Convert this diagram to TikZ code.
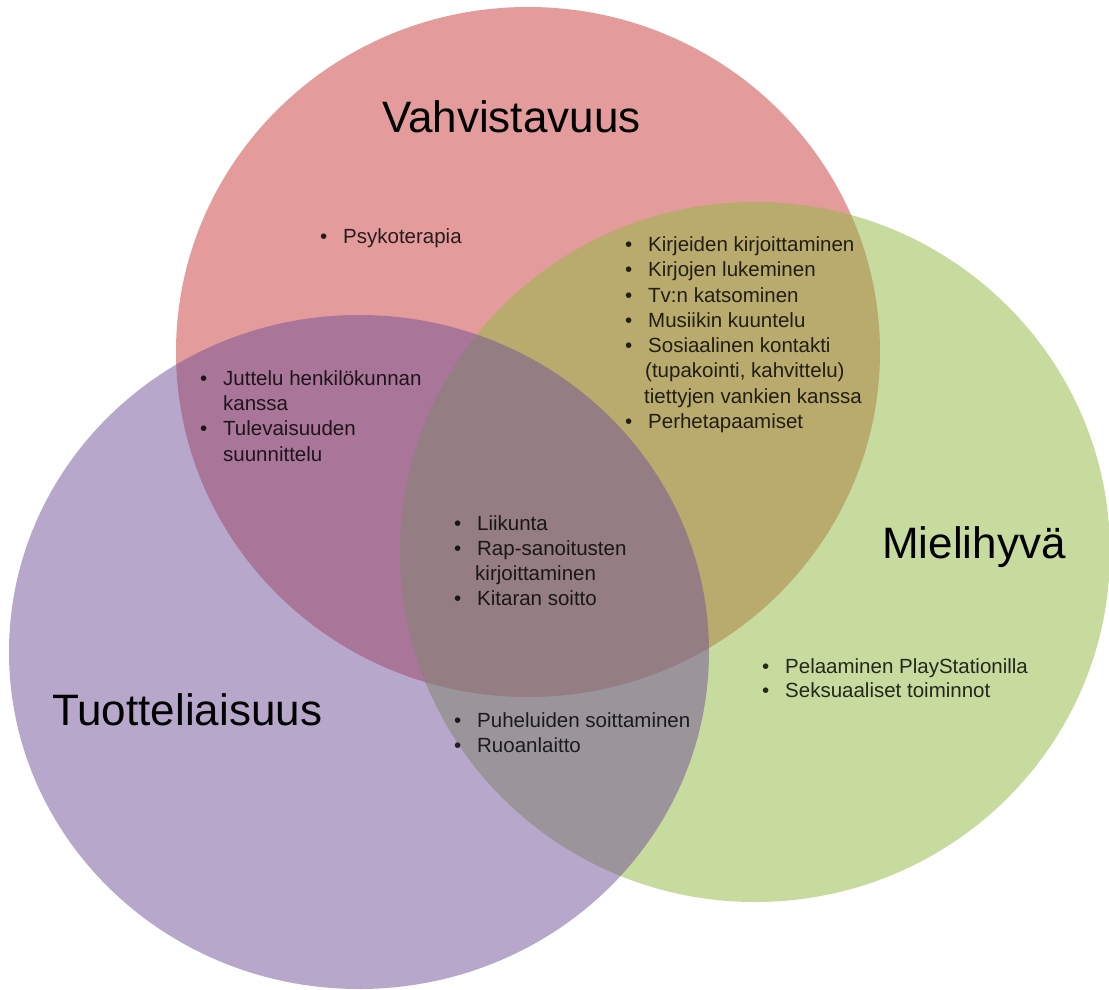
\documentclass[tikz,border=0pt]{standalone}
\usepackage{fontspec}
\setmainfont{Liberation Sans}
\definecolor{vred}{RGB}{200,57,57}
\definecolor{vgreen}{RGB}{145,185,65}
\definecolor{vpurple}{RGB}{113,81,153}
\begin{document}
\begin{tikzpicture}[x=1pt,y=-1pt,
  disc/.style={fill opacity=0.5, draw=none},
  ttl/.style={anchor=base west, inner sep=0pt, font=\fontsize{44}{50}\selectfont, text=black},
  lst/.style={anchor=base west, inner sep=0pt, font=\fontsize{20.5}{25}\selectfont, text=black, text opacity=0.82},
]
\newcommand{\bul}{\llap{\textbullet\hspace{16pt}}}
\useasboundingbox (0,0) rectangle (1109,989);
\fill[white] (0,0) rectangle (1109,989);
% circles
\fill[vred, disc] (528,352) ellipse [x radius=352pt, y radius=345pt];
\fill[vgreen, disc] (755,552) ellipse [x radius=355pt, y radius=350pt];
\fill[vpurple, disc] (359,652) ellipse [x radius=350pt, y radius=337pt];
% titles
\node[ttl] (vah) at (382,132) {Vahvistavuus};
\node[ttl] (mie) at (882,558) {Mielihyvä};
\node[ttl] (tuo) at (52,725) {Tuotteliaisuus};
% red only
\node[lst] (p1) at (343,243) {\bul Psykoterapia};
% red + green
\node[lst] (a1) at (648,251) {\bul Kirjeiden kirjoittaminen};
\node[lst] (a2) at (648,276.5) {\bul Kirjojen lukeminen};
\node[lst] (a3) at (648,302) {\bul Tv:n katsominen};
\node[lst] (a4) at (648,327) {\bul Musiikin kuuntelu};
\node[lst] (a5) at (648,352) {\bul Sosiaalinen kontakti};
\node[lst] (a6) at (645,377) {(tupakointi, kahvittelu)};
\node[lst] (a7) at (644,403) {tiettyjen vankien kanssa};
\node[lst] (a8) at (648,428) {\bul Perhetapaamiset};
% red + purple
\node[lst] (b1) at (223,385) {\bul Juttelu henkilökunnan};
\node[lst] (b2) at (223,410) {kanssa};
\node[lst] (b3) at (223,435) {\bul Tulevaisuuden};
\node[lst] (b4) at (223,461) {suunnittelu};
% all three
\node[lst] (c1) at (477,530) {\bul Liikunta};
\node[lst] (c2) at (477,555) {\bul Rap-sanoitusten};
\node[lst] (c3) at (475,580) {kirjoittaminen};
\node[lst] (c4) at (477,605) {\bul Kitaran soitto};
% purple + green
\node[lst] (d1) at (477,727) {\bul Puheluiden soittaminen};
\node[lst] (d2) at (477,752) {\bul Ruoanlaitto};
% green only
\node[lst] (e1) at (785,673) {\bul Pelaaminen PlayStationilla};
\node[lst] (e2) at (785,697) {\bul Seksuaaliset toiminnot};
\end{tikzpicture}
\end{document}
